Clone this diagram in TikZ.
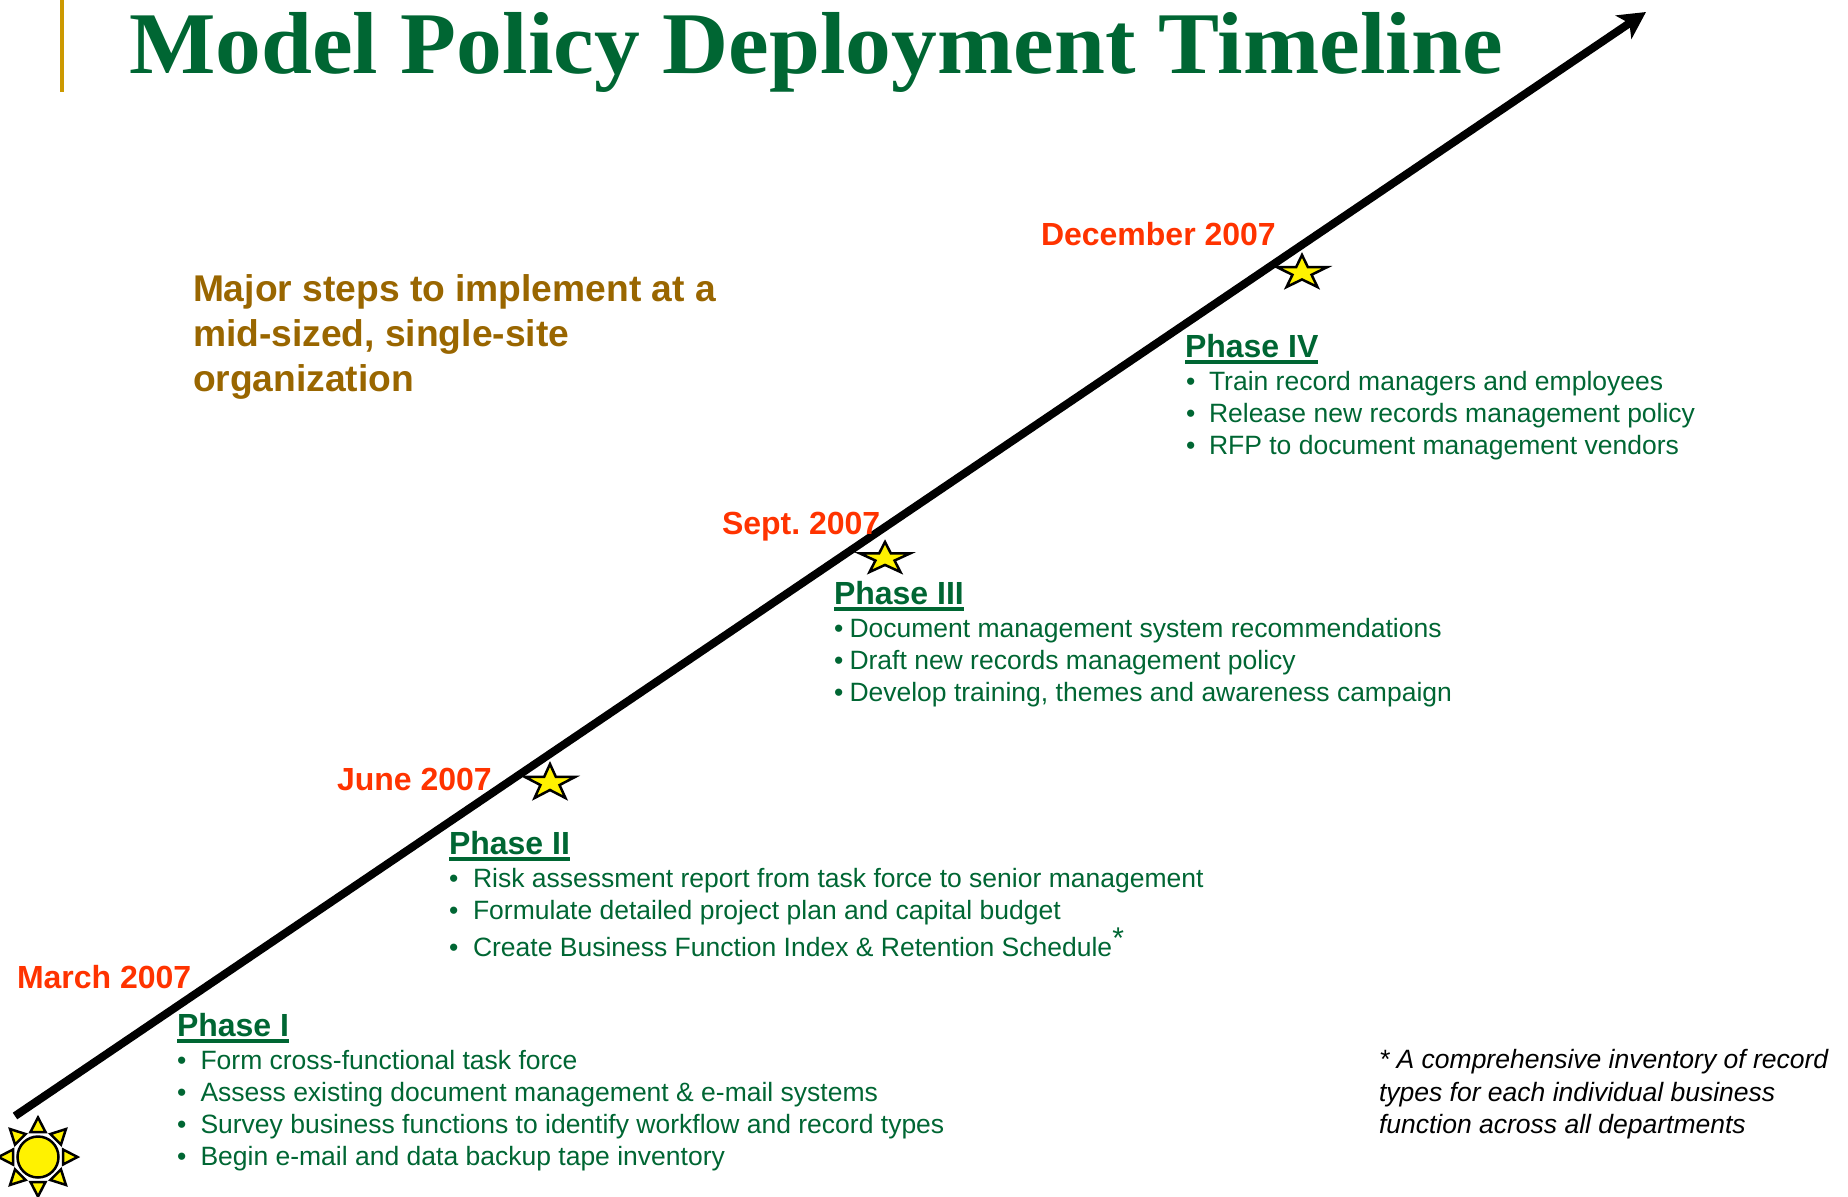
\documentclass[tikz,border=0pt]{standalone}
\usepackage{fontspec}
\setmainfont{Liberation Sans}
\newfontfamily\titlefont[FakeStretch=1.04]{Liberation Serif}
\usetikzlibrary{arrows.meta}
\definecolor{dgreen}{HTML}{006633}
\definecolor{dred}{HTML}{FF3300}
\definecolor{gold}{HTML}{CC9900}
\definecolor{brownish}{HTML}{996600}
\newcommand{\ulbox}[1]{\setbox0=\hbox{#1}\rlap{\rule[-7pt]{\wd0}{4pt}}\box0}
\newcommand{\tlstar}[5]{\path[starshape,shift={(#1,#2)},xscale=#3,yscale=#4] (0,0) -- (.118,.382) -- (.5,.382) -- (.191,.618) -- (.309,1) -- (0,.764) -- (-.309,1) -- (-.191,.618) -- (-.5,.382) -- (-.118,.382) -- cycle;}
\tikzset{
  txt/.style={anchor=base west,inner sep=0pt,outer sep=0pt},
  titletxt/.style={txt,text=dgreen,font=\titlefont\bfseries\fontsize{88}{92}\selectfont},
  datetxt/.style={txt,text=dred,font=\bfseries\fontsize{32}{36}\selectfont},
  phasetxt/.style={txt,text=dgreen,font=\bfseries\fontsize{32}{36}\selectfont},
  bul/.style={txt,text=dgreen,font=\fontsize{26.5}{30}\selectfont},
  major/.style={txt,text=brownish,font=\bfseries\fontsize{37.2}{42}\selectfont},
  foot/.style={txt,text=black,font=\itshape\fontsize{26.5}{30}\selectfont},
  starshape/.style={draw=black,fill=yellow,line width=2.5pt,line join=miter},
  ray/.style={draw=black,fill=yellow,line width=2.5pt,line join=miter},
  timeline/.style={draw=black,line width=8pt,-{Stealth[length=27pt,width=28pt,inset=7pt]}},
}
\begin{document}
\frenchspacing
\begin{tikzpicture}[x=1pt,y=-1pt]
\useasboundingbox (0,0) rectangle (1848,1197);
\fill[gold] (60,0) rectangle (64,92);
\node[titletxt] (title) at (129,73) {Model Policy Deployment Timeline};

\coordinate (start) at (15,1116);
\coordinate (tip) at (1646,12);
\draw[timeline] (start) -- (tip);

% sun
\foreach \a in {0,45,...,315}{
  \path[ray,shift={(38,1157)},rotate=\a] (25,-7.5) -- (39.5,0) -- (25,7.5) -- cycle;
}
\draw[starshape] (38,1157) circle (20.5);

\tlstar{1302}{255}{50}{32}{}
\tlstar{885}{542}{50}{30}{}
\tlstar{550}{764}{50}{34}{}

\node[major] (m1) at (193,301) {Major steps to implement at a};
\node[major] (m2) at (193,346) {mid-sized, single-site};
\node[major] (m3) at (193,391) {organization};

\node[datetxt] (d1) at (17,988) {March 2007};
\node[datetxt] (d2) at (337,790) {June 2007};
\node[datetxt] (d3) at (722,534) {Sept. 2007};
\node[datetxt] (d4) at (1041,245) {December 2007};

\node[phasetxt] (p1) at (177,1036) {\ulbox{Phase I}};
\node[bul] (p1b) at (177,1069) {•};
\node[bul] (p1a) at (200.5,1069) {Form cross-functional task force};
\node[bul] (p1c) at (177,1101) {•};
\node[bul] (p1d) at (200.5,1101) {Assess existing document management \& e-mail systems};
\node[bul] (p1e) at (177,1133) {•};
\node[bul] (p1f) at (200.5,1133) {Survey business functions to identify workflow and record types};
\node[bul] (p1g) at (177,1165) {•};
\node[bul] (p1h) at (200.5,1165) {Begin e-mail and data backup tape inventory};

\node[phasetxt] (p2) at (449,854) {\ulbox{Phase II}};
\node[bul] (p2b) at (449,887) {•};
\node[bul] (p2a) at (473,887) {Risk assessment report from task force to senior management};
\node[bul] (p2c) at (449,919) {•};
\node[bul] (p2d) at (473,919) {Formulate detailed project plan and capital budget};
\node[bul] (p2e) at (449,956) {•};
\node[bul] (p2f) at (473,956) {Create Business Function Index \& Retention Schedule\raisebox{8pt}{\fontsize{30}{30}\selectfont *}};

\node[phasetxt] (p3) at (834,604) {\ulbox{Phase III}};
\node[bul] (p3a) at (834,637) {•};
\node[bul] (p3b) at (849.5,637) {Document management system recommendations};
\node[bul] (p3c) at (834,669) {•};
\node[bul] (p3d) at (849.5,669) {Draft new records management policy};
\node[bul] (p3e) at (834,701) {•};
\node[bul] (p3f) at (849.5,701) {Develop training, themes and awareness campaign};

\node[phasetxt] (p4) at (1185,357) {\ulbox{Phase IV}};
\node[bul] (p4a) at (1186,390) {•};
\node[bul] (p4b) at (1209,390) {Train record managers and employees};
\node[bul] (p4c) at (1186,422) {•};
\node[bul] (p4d) at (1209,422) {Release new records management policy};
\node[bul] (p4e) at (1186,454) {•};
\node[bul] (p4f) at (1209,454) {RFP to document management vendors};

\node[foot] (f1) at (1379,1068) {* A comprehensive inventory of record};
\node[foot] (f2) at (1379,1101) {types for each individual business};
\node[foot] (f3) at (1379,1133) {function across all departments};
\end{tikzpicture}
\end{document}
